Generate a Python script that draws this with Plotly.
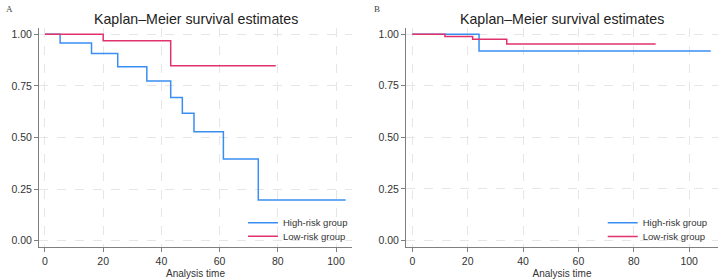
import plotly.graph_objects as go

# Panel A
a_high_t = [0, 5.2, 16, 25, 35, 43.2, 47.2, 51.2, 61.3, 73.3, 103.3]
a_high_s = [1.0, 0.957, 0.907, 0.842, 0.773, 0.694, 0.617, 0.528, 0.396, 0.198, 0.198]
a_low_t = [0, 20, 43.2, 79.3]
a_low_s = [1.0, 0.968, 0.847, 0.847]
# Panel B
b_high_t = [0, 24.1, 107.8]
b_high_s = [1.0, 0.919, 0.919]
b_low_t = [0, 11.8, 21.8, 34.1, 87.9]
b_low_s = [1.0, 0.989, 0.975, 0.952, 0.952]

x_ticks = [0, 20, 40, 60, 80, 100]
y_ticks = [0, 0.25, 0.5, 0.75, 1.0]
series_names = ["High-risk group", "Low-risk group"]
title_text = "Kaplan–Meier survival estimates"
x_title = "Analysis time"
panel_labels = ["A", "B"]

BLUE = "#3A8EF2"
RED = "#E0336B"
FONT = "Liberation Sans, Arial, sans-serif"

fig = go.Figure()
fig.add_trace(go.Scatter(x=a_high_t, y=a_high_s, mode="lines", line=dict(shape="hv", color=BLUE, width=1.5),
                         name=series_names[0], xaxis="x", yaxis="y", legend="legend", showlegend=True))
fig.add_trace(go.Scatter(x=a_low_t, y=a_low_s, mode="lines", line=dict(shape="hv", color=RED, width=1.5),
                         name=series_names[1], xaxis="x", yaxis="y", legend="legend2", showlegend=True))
fig.add_trace(go.Scatter(x=b_high_t, y=b_high_s, mode="lines", line=dict(shape="hv", color=BLUE, width=1.5),
                         name=series_names[0], xaxis="x2", yaxis="y2", legend="legend3", showlegend=True))
fig.add_trace(go.Scatter(x=b_low_t, y=b_low_s, mode="lines", line=dict(shape="hv", color=RED, width=1.5),
                         name=series_names[1], xaxis="x2", yaxis="y2", legend="legend4", showlegend=True))

axis_common = dict(showline=True, linecolor="#7f7f7f", linewidth=1, ticks="outside", ticklen=4,
                   tickcolor="#7f7f7f", showgrid=True, gridcolor="#e6e6e6", griddash="dash", gridwidth=1,
                   zeroline=False, tickfont=dict(family=FONT, size=10.5, color="#333333"))


def leg(x, y):
    return dict(x=x, y=y, xanchor="left", yanchor="middle", bgcolor="rgba(0,0,0,0)",
                font=dict(size=9.5, color="#333333"), itemwidth=30, tracegroupgap=0)


ydom = [0.1147, 0.8996]
fig.update_layout(
    width=719, height=279,
    showlegend=True,
    margin=dict(l=0, r=0, t=0, b=0),
    paper_bgcolor="white", plot_bgcolor="white",
    font=dict(family=FONT, size=10, color="#333333"),
    xaxis=dict(domain=[0.0542, 0.4896], range=[-2.06, 105.5], tickvals=x_ticks, anchor="y",
               title=dict(text=x_title, standoff=4, font=dict(size=10)), **axis_common),
    yaxis=dict(domain=ydom, range=[-0.03, 1.03], tickvals=y_ticks, tickformat=".2f", anchor="x", **axis_common),
    xaxis2=dict(domain=[0.5647, 0.9986], range=[-2.27, 110.4], tickvals=x_ticks, anchor="y2",
                title=dict(text=x_title, standoff=4, font=dict(size=10)), **axis_common),
    yaxis2=dict(domain=ydom, range=[-0.032, 1.03], tickvals=y_ticks, tickformat=".2f", anchor="x2", **axis_common),
    legend=leg(243 / 719, 1 - 222.7 / 279),
    legend2=leg(243 / 719, 1 - 236.2 / 279),
    legend3=leg(602.7 / 719, 1 - 222.7 / 279),
    legend4=leg(602.7 / 719, 1 - 236.4 / 279),
    annotations=[
        dict(text=title_text, x=195.8 / 719, y=1 - 19.5 / 279, xref="paper", yref="paper",
             showarrow=False, font=dict(size=14.2, color="#222222"), xanchor="center", yanchor="middle"),
        dict(text=title_text, x=561.7 / 719, y=1 - 19.5 / 279, xref="paper", yref="paper",
             showarrow=False, font=dict(size=14.2, color="#222222"), xanchor="center", yanchor="middle"),
        dict(text=panel_labels[0], x=4 / 719, y=1 - 2 / 279, xref="paper", yref="paper", showarrow=False,
             font=dict(family="Liberation Serif, serif", size=9, color="#444444"), xanchor="left", yanchor="top"),
        dict(text=panel_labels[1], x=372 / 719, y=1 - 2 / 279, xref="paper", yref="paper", showarrow=False,
             font=dict(family="Liberation Serif, serif", size=9, color="#444444"), xanchor="left", yanchor="top"),
    ],
)

fig.write_html("out.html")
